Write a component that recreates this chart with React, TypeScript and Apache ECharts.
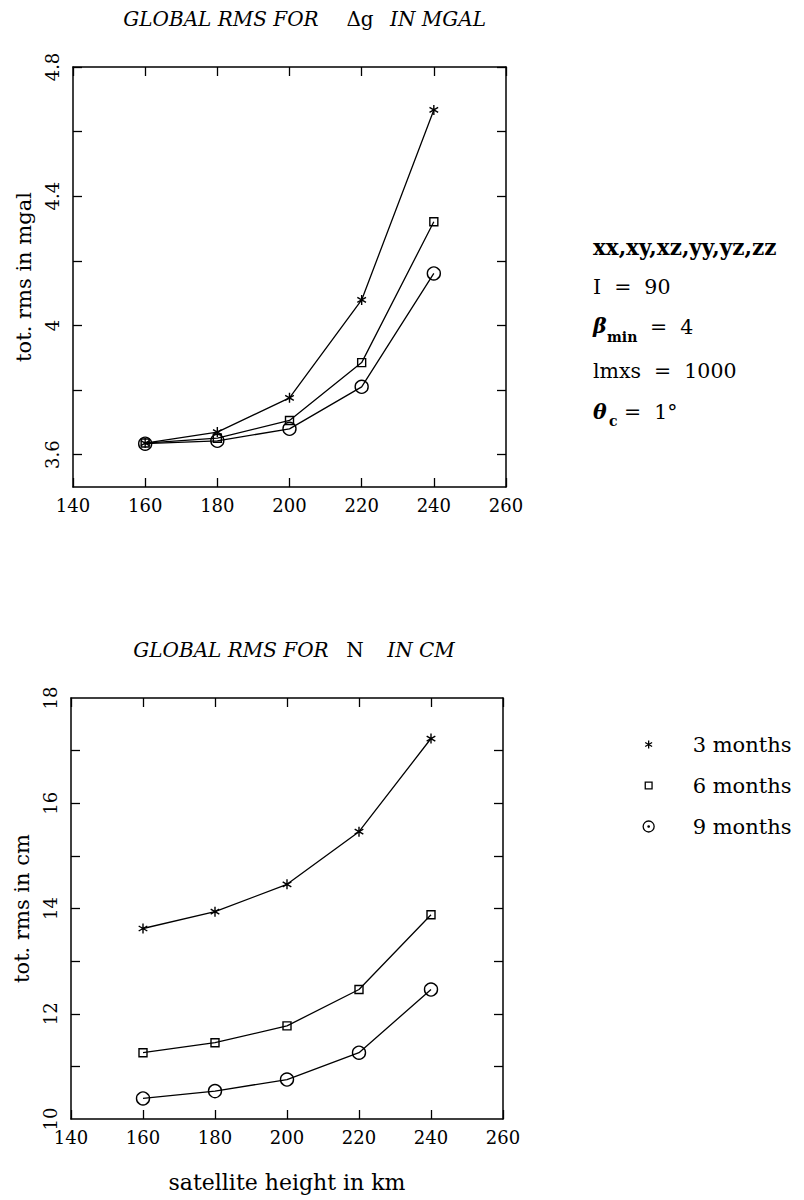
import React, { useEffect, useRef } from 'react';
import * as echarts from 'echarts';

// ---------- data ----------
const heights = [160, 180, 200, 220, 240];
const gravity3 = [3.636, 3.67, 3.776, 4.079, 4.667];
const gravity6 = [3.636, 3.651, 3.706, 3.885, 4.321];
const gravity9 = [3.634, 3.643, 3.68, 3.81, 4.161];
const geoid3 = [13.62, 13.94, 14.46, 15.46, 17.23];
const geoid6 = [11.26, 11.45, 11.77, 12.46, 13.88];
const geoid9 = [10.39, 10.53, 10.75, 11.26, 12.46];
const seriesNames = ['3 months', '6 months', '9 months'];
const gravityYLabels = [3.6, 4.0, 4.4, 4.8];
const gravityYTicks = [3.6, 3.8, 4.0, 4.2, 4.4, 4.6, 4.8];
const geoidYLabels = [10, 12, 14, 16, 18];
const geoidYTicks = [11, 12, 13, 14, 15, 16, 17];

const SERIF = '"DejaVu Serif", serif';
const STAR = 'path://M0 0M10 10M5 0L5 10M0.67 2.5L9.33 7.5M0.67 7.5L9.33 2.5';
const STAR_ICON = 'path://M0 0M12 12M6 2L6 10M2.54 4L9.46 8M2.54 8L9.46 4';
const SQUARE_ICON = 'path://M0 0M12 12M2.6 2.6L9.4 2.6L9.4 9.4L2.6 9.4Z';
const CIRCLE_ICON = 'path://M0 0M12 12M11.5 6A5.5 5.5 0 1 1 0.5 6A5.5 5.5 0 1 1 11.5 6ZM6.7 6A0.7 0.7 0 1 1 5.3 6A0.7 0.7 0 1 1 6.7 6Z';

const black = '#000';

function xAxes(gridIndex: number, name?: string) {
  const base: any = {
    type: 'value',
    gridIndex,
    min: 140,
    max: 260,
    interval: 20,
    axisLine: { show: true, onZero: false, lineStyle: { color: black, width: 1.5 } },
    axisTick: { show: true, inside: true, length: 9, lineStyle: { color: black, width: 1.3 } },
    splitLine: { show: false },
  };
  return [
    {
      ...base,
      position: 'bottom',
      axisLabel: { color: black, fontFamily: SERIF, fontSize: 18, margin: 9 },
      name: name || '',
      nameLocation: 'middle',
      nameGap: 52,
      nameTextStyle: { color: black, fontFamily: SERIF, fontSize: 22 },
    },
    { ...base, position: 'top', axisLabel: { show: false } },
  ];
}

function yAxes(gridIndex: number, min: number, max: number, labels: number[], ticks: number[], name: string) {
  const base: any = {
    type: 'value',
    gridIndex,
    min,
    max,
    axisLine: { show: true, onZero: false, lineStyle: { color: black, width: 1.5 } },
    axisTick: { show: true, inside: true, length: 9, customValues: ticks, lineStyle: { color: black, width: 1.3 } },
    splitLine: { show: false },
  };
  return [
    {
      ...base,
      position: 'left',
      axisLabel: {
        customValues: labels,
        rotate: 90,
        color: black,
        fontFamily: SERIF,
        fontSize: 18,
        margin: 12,
        formatter: (v: number) => String(v),
      },
      name,
      nameLocation: 'middle',
      nameGap: 39,
      nameTextStyle: { color: black, fontFamily: SERIF, fontSize: 21 },
    },
    { ...base, position: 'right', axisLabel: { show: false } },
  ];
}

const symbols = [STAR, 'rect', 'circle'];
const symbolSizes = [10, 8, 13];

function lineSeries(name: string, values: number[], k: number, axisBase: number) {
  return {
    type: 'line',
    name,
    xAxisIndex: axisBase,
    yAxisIndex: axisBase,
    data: heights.map((h, i) => [h, values[i]]),
    symbol: symbols[k],
    symbolSize: symbolSizes[k],
    showSymbol: true,
    lineStyle: { color: black, width: 1.3 },
    itemStyle: { color: 'rgba(0,0,0,0)', borderColor: black, borderWidth: 1.4 },
    emphasis: { disabled: true },
    z: 3,
  };
}

function txt(x: number, y: number, text: string, font: string, align = 'left') {
  return {
    type: 'text',
    x,
    y,
    style: { text, font, fill: black, align, verticalAlign: 'middle' },
  };
}

export default function App() {
  const ref = useRef<HTMLDivElement>(null);
  useEffect(() => {
    if (!ref.current) return;
    const chart = echarts.init(ref.current, null, { renderer: 'svg' });
    const legendItemStyle = { color: 'rgba(0,0,0,0)', borderColor: black, borderWidth: 1.3 };
    const italic = 'italic 20px "DejaVu Serif"';
    const upright = '20px "DejaVu Serif"';
    const anno = '20.5px "DejaVu Serif"';
    const sub = 'bold 14px "DejaVu Serif"';
    const option: any = {
      animation: false,
      backgroundColor: '#fff',
      grid: [
        { left: 73, top: 67, width: 433, height: 420, containLabel: false },
        { left: 71, top: 698, width: 432, height: 421, containLabel: false },
      ],
      xAxis: [...xAxes(0), ...xAxes(1, 'satellite height in km')],
      yAxis: [
        ...yAxes(0, 3.5, 4.8, gravityYLabels, gravityYTicks, 'tot. rms in mgal'),
        ...yAxes(1, 10, 18, geoidYLabels, geoidYTicks, 'tot. rms in cm'),
      ],
      legend: {
        orient: 'vertical',
        left: 637,
        top: 729,
        itemWidth: 12,
        itemHeight: 12,
        itemGap: 20,
        selectedMode: false,
        textStyle: { color: black, fontFamily: SERIF, fontSize: 21, padding: [0, 0, 0, 33] },
        data: [
          { name: seriesNames[0], icon: STAR_ICON, itemStyle: legendItemStyle },
          { name: seriesNames[1], icon: SQUARE_ICON, itemStyle: legendItemStyle },
          { name: seriesNames[2], icon: CIRCLE_ICON, itemStyle: legendItemStyle },
        ],
      },
      series: [
        lineSeries(seriesNames[0], gravity3, 0, 0),
        lineSeries(seriesNames[1], gravity6, 1, 0),
        lineSeries(seriesNames[2], gravity9, 2, 0),
        lineSeries(seriesNames[0], geoid3, 0, 2),
        lineSeries(seriesNames[1], geoid6, 1, 2),
        lineSeries(seriesNames[2], geoid9, 2, 2),
      ],
      graphic: [
        txt(221, 19, 'GLOBAL RMS FOR', italic, 'center'),
        txt(360, 19, 'Δg', upright, 'center'),
        txt(438, 19, 'IN MGAL', italic, 'center'),
        txt(231, 650, 'GLOBAL RMS FOR', italic, 'center'),
        txt(355, 650, 'N', upright, 'center'),
        txt(421, 650, 'IN CM', italic, 'center'),
        txt(593, 247, 'xx,xy,xz,yy,yz,zz', 'bold 21.5px "DejaVu Serif"'),
        txt(593, 287, 'I  =  90', anno),
        txt(593, 326, 'β', 'italic bold ' + anno),
        txt(607, 337, 'min', sub),
        txt(650, 327, '=  4', anno),
        txt(593, 371, 'lmxs  =  1000', anno),
        txt(593, 412, 'θ', 'italic bold ' + anno),
        txt(609, 421, 'c', sub),
        txt(624, 412, '=  1°', anno),
      ],
    };
    chart.setOption(option);
    return () => chart.dispose();
  }, []);
  return (
    <div
      ref={ref}
      style={{ position: 'absolute', left: 0, top: 0, width: 804, height: 1200, background: '#fff' }}
    />
  );
}
